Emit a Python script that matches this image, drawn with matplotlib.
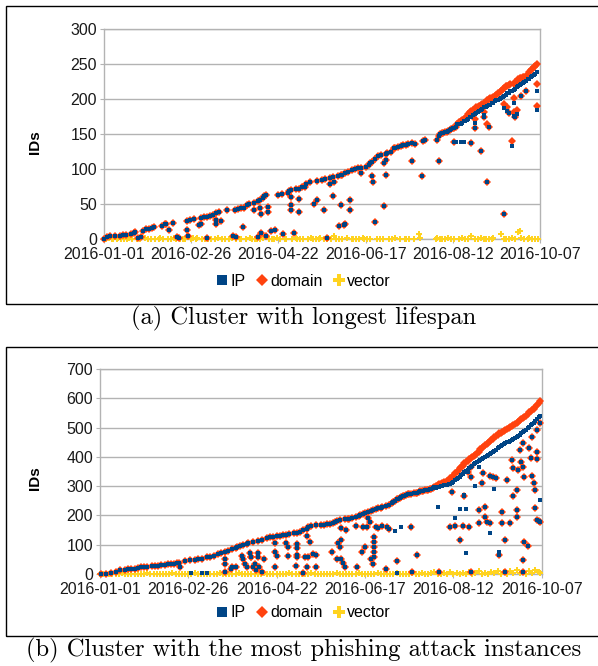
import matplotlib
matplotlib.use("Agg")
import matplotlib.pyplot as plt
from matplotlib.lines import Line2D
from matplotlib.patches import Rectangle

# ---- data (day since 2016-01-01, number of IDs) ----
tick_days = [0, 56, 112, 168, 224, 280]
tick_labels = ["2016-01-01", "2016-02-26", "2016-04-22",
               "2016-06-17", "2016-08-12", "2016-10-07"]

# panel (a): cluster with longest lifespan
a_both = [(0, 0), (2, 3), (4, 4), (7, 4), (10, 5), (12, 6), (14, 6), (17, 7), (19, 9), (20, 10),
          (25, 12), (27, 14), (29, 15), (31, 16), (32, 17), (37, 19), (39, 21), (40, 22), (44, 23),
          (53, 26), (55, 27), (58, 28), (62, 30), (64, 31), (66, 32), (68, 33), (70, 34), (72, 37),
          (74, 38), (79, 41), (84, 42), (86, 43), (88, 44), (90, 45), (92, 48), (93, 50), (96, 51),
          (99, 54), (100, 56), (102, 58), (103, 61), (104, 63), (112, 63), (114, 65), (118, 66),
          (119, 69), (120, 70), (123, 71), (125, 72), (127, 75), (129, 75), (130, 79), (132, 82),
          (137, 83), (140, 84), (142, 86), (145, 87), (147, 88), (150, 90), (152, 91), (153, 92),
          (155, 94), (157, 96), (159, 98), (161, 100), (163, 101), (165, 102), (168, 103), (170, 106),
          (171, 108), (172, 110), (174, 115), (176, 118), (178, 120), (181, 121), (182, 123),
          (184, 124), (186, 130), (187, 130), (189, 131), (191, 133), (192, 134), (194, 135),
          (195, 136), (198, 137), (200, 136), (205, 140), (206, 141), (214, 142), (215, 147),
          (216, 150), (217, 151), (218, 152), (219, 153), (220, 153), (221, 155), (222, 156),
          (223, 157), (224, 158), (225, 159), (226, 160), (227, 164),
          # outliers
          (22, 2), (24, 3), (42, 13), (47, 3), (48, 1), (53, 13), (54, 4), (61, 20), (62, 22),
          (66, 1), (72, 27), (72, 21), (75, 26), (83, 4), (85, 3), (89, 17), (96, 41), (100, 44),
          (101, 36), (105, 46), (105, 39), (99, 3), (101, 8), (104, 4), (107, 11), (110, 13),
          (115, 7), (120, 60), (120, 49), (120, 41), (122, 9), (125, 57), (125, 38), (135, 50),
          (137, 56), (141, 41), (143, 2), (145, 78), (147, 61), (148, 82), (152, 48), (151, 18),
          (154, 20), (155, 22), (158, 56), (158, 42), (165, 94), (172, 90), (173, 82), (174, 25),
          (180, 47), (181, 91), (181, 113), (180, 108), (198, 112), (204, 90), (215, 112),
          (225, 138), (236, 137), (238, 158), (242, 126), (244, 174), (246, 82), (247, 160),
          (257, 36), (260, 180), (264, 174), (268, 205), (271, 211)]
a_domain = [(228, 167), (229, 168), (230, 170), (231, 172), (232, 173), (233, 175), (234, 179),
            (235, 182), (236, 183), (237, 185), (238, 186), (239, 188), (240, 189), (241, 190),
            (242, 192), (243, 193), (244, 195), (245, 196), (246, 199), (247, 200), (248, 201),
            (249, 202), (250, 203), (251, 205), (252, 206), (253, 208), (254, 210), (255, 212),
            (256, 215), (257, 216), (258, 218), (259, 219), (260, 220), (261, 221), (263, 222),
            (264, 224), (265, 226), (266, 228), (267, 230), (268, 230), (269, 231), (270, 232),
            (271, 232), (272, 235), (273, 238), (274, 242), (275, 243), (276, 245), (277, 247),
            (278, 250),
            (238, 171), (244, 182), (246, 165), (257, 193), (259, 189), (262, 140), (263, 201),
            (263, 182), (265, 184), (278, 222), (278, 190)]
a_ip = [(229, 165), (230, 166), (231, 168), (232, 169), (233, 170), (234, 172), (235, 174),
        (236, 175), (237, 177), (238, 178), (239, 180), (240, 181), (241, 183), (242, 185),
        (243, 186), (244, 188), (245, 189), (246, 190), (247, 191), (248, 192), (249, 194),
        (250, 195), (251, 197), (252, 198), (253, 199), (254, 200), (255, 202), (256, 203),
        (257, 205), (258, 206), (259, 208), (260, 209), (261, 211), (262, 212), (263, 213),
        (264, 215), (265, 217), (266, 218), (267, 220), (268, 221), (269, 223), (270, 224),
        (271, 226), (272, 228), (273, 229), (274, 231), (275, 233), (276, 234), (277, 236),
        (278, 238),
        (226, 138), (229, 138), (231, 138), (238, 166), (244, 177), (257, 187), (259, 183),
        (262, 133), (263, 195), (263, 176), (265, 178), (278, 212), (278, 184)]
a_vector = [(1, 0), (3, 1), (5, 0), (6, 0), (8, 0), (9, 1), (11, 0), (13, 0), (15, 0), (16, 1),
            (18, 0), (21, 0), (23, 0), (26, 1), (28, 0), (30, 0), (33, 0), (35, 0), (36, 1),
            (38, 0), (41, 0), (43, 0), (45, 1), (46, 0), (49, 0), (51, 0), (52, 0), (56, 0),
            (57, 2), (59, 0), (60, 1), (63, 0), (65, 0), (67, 0), (69, 0), (71, 0), (73, 1),
            (76, 0), (78, 0), (80, 0), (82, 1), (85, 0), (87, 0), (88, 0), (91, 0), (94, 1),
            (95, 0), (97, 0), (98, 0), (100, 0), (102, 2), (106, 0), (108, 0), (109, 0), (111, 1),
            (113, 0), (116, 0), (117, 0), (121, 0), (123, 1), (124, 0), (126, 0), (128, 0),
            (131, 0), (133, 1), (134, 0), (136, 0), (138, 0), (139, 2), (141, 0), (143, 0),
            (144, 1), (146, 0), (148, 5), (149, 0), (151, 0), (153, 0), (156, 1), (159, 0),
            (160, 0), (162, 0), (164, 0), (166, 1), (167, 0), (169, 0), (171, 0), (175, 0),
            (177, 0), (179, 0), (183, 0), (185, 0), (187, 1), (190, 0), (193, 0), (194, 0),
            (196, 0), (199, 0), (202, 7), (203, 2), (213, 0), (214, 1), (216, 0), (217, 0),
            (219, 0), (221, 1), (223, 0), (225, 0), (228, 0), (230, 2), (232, 0), (234, 0),
            (236, 5), (238, 0), (240, 0), (242, 1), (244, 0), (245, 0), (247, 0), (249, 0),
            (250, 1), (255, 7), (257, 0), (258, 0), (260, 0), (262, 1), (264, 0), (266, 10),
            (267, 11), (268, 2), (270, 0), (272, 0), (273, 1), (275, 0), (277, 0), (279, 0)]

# panel (b): cluster with the most phishing attack instances
b_both = [(1, 0), (4, 2), (7, 5), (10, 8), (13, 14), (16, 15), (18, 16), (20, 18), (22, 19),
          (24, 21), (26, 23), (28, 24), (30, 25), (33, 26), (35, 27), (37, 29), (39, 30), (41, 32),
          (43, 33), (45, 35), (47, 36), (49, 38), (50, 39), (54, 45), (57, 48), (60, 49), (62, 50),
          (65, 53), (68, 57), (70, 59), (72, 61), (75, 67), (77, 73), (79, 76), (81, 80), (84, 84),
          (86, 88), (87, 91), (89, 95), (91, 99), (93, 104), (94, 107), (97, 110), (100, 114),
          (103, 118), (106, 122), (108, 125), (110, 128), (112, 130), (114, 131), (116, 133),
          (118, 135), (120, 137), (123, 139), (125, 141), (127, 145), (129, 150), (131, 155),
          (132, 159), (134, 164), (137, 167), (140, 167), (142, 169), (144, 171), (146, 172),
          (148, 173), (149, 179), (150, 181), (152, 184), (155, 187), (157, 188), (158, 189),
          (160, 191), (162, 194), (164, 198), (165, 201), (167, 205), (168, 209), (170, 213),
          (172, 216), (173, 219), (175, 222), (176, 224), (178, 226), (179, 228), (181, 232),
          (183, 236), (185, 242), (186, 247), (187, 251), (188, 255), (189, 257), (190, 260),
          (191, 263), (192, 266), (193, 268), (194, 270), (195, 272), (196, 273), (197, 274),
          (199, 276), (200, 277), (201, 278), (202, 280), (203, 282), (204, 283), (205, 285),
          (206, 286), (207, 287), (208, 288), (209, 289), (210, 292), (211, 295), (212, 298),
          # outliers
          (51, 25), (79, 53), (79, 36), (79, 8), (83, 16), (84, 25), (86, 23), (90, 61), (91, 50),
          (92, 36), (93, 23), (95, 73), (96, 57), (98, 36), (99, 14), (97, 25), (96, 59), (100, 71),
          (100, 59), (101, 25), (103, 8), (104, 50), (111, 105), (111, 76), (112, 61), (111, 25),
          (118, 105), (119, 93), (119, 61), (125, 102), (125, 88), (125, 65), (125, 57), (124, 27),
          (129, 5), (130, 59), (131, 25), (131, 130), (133, 110), (132, 59), (135, 68), (137, 65),
          (137, 25), (147, 76), (150, 53), (151, 105), (153, 116), (152, 93), (153, 50), (154, 39),
          (155, 25), (153, 156), (156, 150), (162, 164), (163, 25), (166, 76), (168, 93),
          (167, 159), (169, 162), (170, 190), (171, 179), (172, 53), (173, 36), (174, 127),
          (174, 110), (174, 93), (174, 76), (174, 59), (175, 159), (176, 156), (179, 164),
          (181, 19), (182, 162), (183, 153), (188, 45), (197, 162), (198, 8), (201, 65), (215, 8),
          (222, 162), (225, 164), (223, 281), (228, 116), (230, 164), (231, 266), (234, 162),
          (235, 8), (233, 349), (235, 332), (235, 366), (240, 173), (240, 219), (242, 310),
          (243, 344), (244, 228), (244, 196), (245, 179), (247, 175), (247, 335), (249, 332),
          (251, 327), (255, 213), (255, 173), (258, 321), (257, 116), (253, 65), (257, 8),
          (260, 173), (261, 389), (262, 361), (262, 266), (264, 196), (264, 219), (264, 287),
          (265, 355), (266, 423), (267, 383), (268, 448), (268, 366), (269, 332), (269, 110),
          (268, 48), (268, 8), (271, 96), (272, 429), (273, 395), (274, 469), (274, 335),
          (275, 310), (276, 287), (277, 418), (277, 392), (277, 492), (279, 515), (277, 184),
          (278, 180), (276, 225), (279, 179)]
b_domain = [(213, 301), (214, 303), (215, 307), (216, 309), (217, 311), (218, 313), (219, 315),
            (220, 318), (221, 322), (222, 327), (223, 331), (224, 336), (225, 344), (226, 348),
            (227, 352), (228, 361), (229, 365), (230, 370), (231, 378), (232, 382), (233, 386),
            (234, 392), (235, 395), (236, 399), (237, 402), (238, 406), (239, 412), (240, 418),
            (241, 426), (242, 430), (243, 434), (244, 441), (245, 444), (246, 448), (247, 455),
            (248, 458), (249, 462), (250, 469), (251, 472), (252, 475), (253, 480), (254, 483),
            (255, 486), (256, 489), (257, 492), (258, 495), (259, 498), (260, 503), (261, 505),
            (262, 508), (263, 512), (264, 516), (265, 520), (266, 526), (267, 529), (268, 532),
            (269, 537), (270, 541), (271, 546), (272, 554), (273, 557), (274, 561), (275, 565),
            (276, 569), (277, 576), (278, 583), (279, 592)]
b_ip = [(213, 294), (214, 296), (215, 297), (216, 299), (217, 301), (218, 303), (219, 304),
        (220, 305), (221, 306), (222, 307), (223, 311), (224, 315), (225, 320), (226, 324),
        (227, 328), (228, 332), (229, 337), (230, 342), (231, 347), (232, 352), (233, 356),
        (234, 361), (235, 366), (236, 370), (237, 374), (238, 378), (239, 382), (240, 385),
        (241, 389), (242, 392), (243, 396), (244, 400), (245, 403), (246, 407), (247, 410),
        (248, 414), (249, 418), (250, 421), (251, 425), (252, 429), (253, 433), (254, 437),
        (255, 440), (256, 444), (257, 447), (258, 450), (259, 452), (260, 455), (261, 459),
        (262, 462), (263, 465), (264, 468), (265, 472), (266, 475), (267, 480), (268, 484),
        (269, 489), (270, 493), (271, 498), (272, 503), (273, 508), (274, 512), (275, 517),
        (276, 522), (277, 530), (278, 537), (279, 540),
        (58, 5), (65, 5), (68, 5), (187, 148), (191, 162), (188, 5), (214, 230), (225, 190),
        (232, 73), (228, 221), (232, 221), (231, 270), (240, 366), (253, 76), (247, 140),
        (279, 253), (238, 300), (250, 290)]
b_vector = [(0, 0), (2, 1), (4, 0), (6, 2), (8, 0), (10, 1), (12, 0), (14, 3), (16, 0), (18, 1),
            (20, 0), (22, 2), (24, 0), (26, 1), (28, 0), (30, 3), (32, 0), (34, 1), (36, 0),
            (38, 2), (40, 0), (42, 1), (44, 0), (46, 4), (48, 0), (50, 1), (52, 0), (54, 2),
            (56, 0), (58, 1), (60, 3), (62, 0), (64, 1), (66, 0), (68, 2), (70, 0), (72, 1),
            (74, 0), (76, 3), (78, 0), (80, 2), (82, 0), (84, 1), (86, 0), (88, 4), (90, 0),
            (92, 1), (94, 0), (96, 2), (98, 0), (100, 1), (102, 0), (104, 3), (106, 0), (108, 1),
            (110, 0), (112, 2), (114, 0), (116, 1), (118, 0), (120, 3), (122, 0), (124, 1),
            (126, 0), (128, 2), (130, 0), (132, 1), (134, 4), (136, 0), (138, 1), (140, 0),
            (142, 2), (144, 0), (146, 1), (148, 0), (150, 3), (152, 0), (154, 1), (156, 0),
            (158, 2), (160, 0), (162, 1), (164, 5), (166, 0), (168, 2), (170, 0), (172, 1),
            (174, 0), (176, 3), (178, 0), (180, 1), (182, 0), (184, 2), (186, 0), (188, 4),
            (190, 1), (192, 0), (194, 2), (196, 0), (198, 3), (200, 1), (202, 0), (204, 5),
            (206, 1), (208, 0), (210, 3), (212, 6), (214, 1), (216, 0), (218, 4), (220, 2),
            (222, 8), (224, 1), (226, 3), (228, 0), (230, 5), (232, 2), (234, 7), (236, 1),
            (238, 4), (240, 10), (242, 2), (244, 5), (246, 1), (248, 8), (250, 3), (252, 12),
            (254, 2), (256, 6), (258, 1), (260, 9), (262, 3), (264, 14), (266, 4), (268, 7),
            (270, 2), (272, 10), (274, 5), (276, 15), (278, 8), (279, 3)]

# ---- styling ----
IP_C = "#004586"
DOM_C = "#ff420e"
VEC_C = "#ffd320"
GRID_C = "#b3b3b3"
SANS = ["Liberation Sans", "DejaVu Sans"]

fig = plt.figure(figsize=(5.98, 6.66), dpi=100)


def xy(pairs):
    return [p[0] for p in pairs], [p[1] for p in pairs]


def draw_panel(rect, both, dom, ip, vec, ymax, ystep):
    ax = fig.add_axes(rect)
    kw = dict(linestyle="none", clip_on=False)
    x, y = xy(vec)
    ax.plot(x, y, marker="P", ms=4.5, color=VEC_C, mew=0, zorder=3, **kw)
    x, y = xy(both + dom)
    ax.plot(x, y, marker="D", ms=3.9, color=DOM_C, mew=0, zorder=4, **kw)
    x, y = xy(both + ip)
    ax.plot(x, y, marker="s", ms=2.6, color=IP_C, mew=0, zorder=5, **kw)

    ax.set_xlim(0, 280)
    ax.set_ylim(0, ymax)
    ax.set_xticks(tick_days)
    ax.set_xticklabels(tick_labels, fontfamily=SANS, fontsize=11.5)
    ax.set_yticks(range(0, ymax + 1, ystep))
    ax.set_yticklabels([str(v) for v in range(0, ymax + 1, ystep)],
                       fontfamily=SANS, fontsize=11.5)
    ax.grid(axis="y", color=GRID_C, lw=1.0)
    ax.set_axisbelow(True)
    for s in ax.spines.values():
        s.set_color(GRID_C)
        s.set_linewidth(1.0)
    ax.tick_params(axis="both", length=3, color=GRID_C, pad=2, labelcolor="#1a1a1a")
    ax.tick_params(axis="x", pad=3)
    return ax


def legend(y):
    handles = [
        Line2D([], [], linestyle="none", marker="s", ms=7, color=IP_C, mew=0),
        Line2D([], [], linestyle="none", marker="D", ms=6, color=DOM_C, mew=0),
        Line2D([], [], linestyle="none", marker="P", ms=8, color=VEC_C, mew=0),
    ]
    fig.legend(handles, ["IP", "domain", "vector"], loc="center",
               bbox_to_anchor=(0.508, y), ncol=3, frameon=False,
               handlelength=0.7, handletextpad=0.15, columnspacing=0.7,
               prop={"family": SANS, "size": 11.5})


draw_panel([0.174, 0.641, 0.729, 0.3155], a_both, a_domain, a_ip, a_vector, 300, 50)
draw_panel([0.167, 0.138, 0.739, 0.308], b_both, b_domain, b_ip, b_vector, 700, 100)

legend(0.578)
legend(0.0796)

fig.text(0.058, 0.787, "IDs", rotation=90, ha="center", va="center",
         fontfamily=SANS, fontsize=11, fontweight="bold")
fig.text(0.058, 0.282, "IDs", rotation=90, ha="center", va="center",
         fontfamily=SANS, fontsize=11, fontweight="bold")

# frames round the two sub-figures
fig.add_artist(Rectangle((0.010, 0.5435), 1.1, 0.4475, transform=fig.transFigure,
                         fill=False, edgecolor="black", lw=1.0))
fig.add_artist(Rectangle((0.010, 0.045), 1.1, 0.434, transform=fig.transFigure,
                         fill=False, edgecolor="black", lw=1.0))

fig.text(0.508, 0.5225, "(a) Cluster with longest lifespan", ha="center", va="center",
         fontfamily="cmr10", fontsize=17.7)
fig.text(0.508, 0.024, "(b) Cluster with the most phishing attack instances",
         ha="center", va="center", fontfamily="cmr10", fontsize=17.7)

fig.savefig("out.png", dpi=100)
